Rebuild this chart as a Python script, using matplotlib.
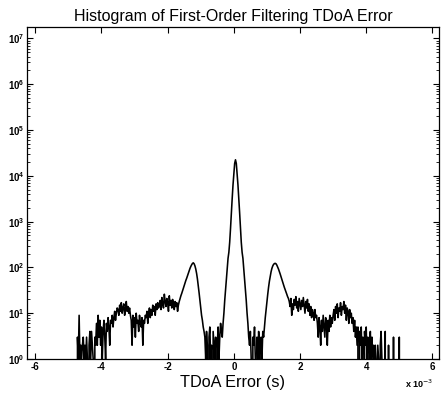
import numpy as np
import matplotlib
matplotlib.use("Agg")
import matplotlib.pyplot as plt
from matplotlib.ticker import NullFormatter, FixedLocator, LogFormatterSciNotation

plt.rcParams['font.family'] = ['Liberation Sans', 'DejaVu Sans']

# Histogram bin width (ms) and counts per contiguous segment
bin_width_ms = 0.025
seg_starts_ms = [-4.75, -4.0, -3.5, -3.1, -2.65, -2.25, -1.65, -0.875, -0.35,
                 0.475, 0.925, 1.675, 2.4, 2.525, 3.0, 3.575, 3.725, 4.225]
seg_far_left = [0, 3, 1, 9, 1, 2, 1, 2, 3, 1, 2, 1, 3, 1, 0, 2, 4, 1, 4, 2, 1, 0, 3, 2, 6, 2, 9, 3, 7, 2]
seg_left_rise = [5, 1, 4, 7, 3, 1, 6, 4, 8, 5, 2, 7, 6, 9, 5, 8, 11, 7, 10, 13]
seg_left_plateau = [12, 9, 15, 11, 17, 10, 13, 16, 9, 12, 18, 11, 14, 10, 13, 9]
seg_left_dip = [7, 2, 9, 5, 8, 3, 10, 6, 7, 4, 9, 6, 5, 8, 2, 7, 6, 9]
seg_left_rise2 = [8, 11, 6, 10, 13, 8, 12, 9, 15, 11, 14, 9, 16, 12, 17, 13]
seg_left_shoulder = [15, 19, 12, 22, 16, 13, 26, 18, 14, 21, 17, 11, 24, 15, 19, 13, 20, 16, 12, 18, 14, 17, 11, 15]
seg_left_lobe = [18, 21, 24, 27, 31, 35, 40, 45, 52, 58, 66, 74, 84, 95, 105, 114, 122, 126,
                 120, 108, 92, 74, 56, 40, 28, 19, 13, 9, 7, 5, 4]
seg_left_null = [3, 1, 4, 2, 0, 3, 5, 1, 2, 0, 4, 2, 1, 3, 0, 2, 5, 1, 3, 6, 4]
seg_main_lobe = [3, 6, 10, 19, 33, 56, 93, 158, 214, 355, 710, 1580, 3160, 6300, 11200, 18600,
                 22400, 18600, 11200, 6300, 3160, 1580, 710, 355, 214, 158, 93, 56, 33, 19, 10, 6, 3]
seg_right_null = [2, 4, 1, 0, 3, 2, 5, 1, 0, 3, 1, 4, 2, 0, 3, 1, 4, 3]
seg_right_lobe = [5, 8, 12, 18, 26, 37, 50, 64, 80, 95, 107, 116, 121, 123, 120, 112, 102, 92,
                  82, 72, 63, 55, 48, 42, 37, 33, 29, 26, 23, 21]
seg_right_shoulder = [18, 14, 21, 9, 16, 12, 20, 15, 23, 13, 18, 11, 21, 16, 12, 19, 14, 22, 15,
                      10, 18, 13, 20, 11, 16, 9, 14, 8, 12]
seg_right_step = [10, 7, 12, 8, 9]
seg_right_dip = [6, 3, 8, 5, 2, 7, 4, 9, 5, 3, 8, 6, 2, 7, 4, 9, 5, 8, 6]
seg_right_plateau = [9, 12, 7, 14, 10, 16, 8, 13, 11, 17, 9, 14, 12, 18, 10, 15, 7, 13, 11, 6, 12, 8, 10]
seg_right_fall = [6, 8, 4, 7, 3, 5]
seg_right_low = [2, 5, 0, 4, 2, 5, 1, 3, 0, 4, 2, 5, 1, 3, 0, 2, 4, 1, 3, 0]
seg_far_right = [2, 1, 2, 0, 1, 2, 1, 0, 2, 4, 1, 0, 0, 0, 4, 0, 0, 0, 2, 0, 0, 0, 0, 0, 3,
                 0, 0, 0, 0, 0, 0, 3, 0]

segments = [seg_far_left, seg_left_rise, seg_left_plateau, seg_left_dip, seg_left_rise2,
            seg_left_shoulder, seg_left_lobe, seg_left_null, seg_main_lobe, seg_right_null,
            seg_right_lobe, seg_right_shoulder, seg_right_step, seg_right_dip,
            seg_right_plateau, seg_right_fall, seg_right_low, seg_far_right]

xs, ys = [], []
for start, seg in zip(seg_starts_ms, segments):
    for i, c in enumerate(seg):
        xs.append((start + i * bin_width_ms) * 1e-3)
        ys.append(c)
xs = np.array(xs)
ys = np.array(ys, dtype=float)

x_ticks = [-6, -4, -2, 0, 2, 4, 6]
x_tick_labels = ['-6', '-4', '-2', '0', '2', '4', '6']
y_decades = [0, 1, 2, 3, 4, 5, 6, 7]
title_text = 'Histogram of First-Order Filtering TDoA Error'
xlabel_text = 'TDoA Error (s)'

fig = plt.figure(figsize=(4.41, 3.94), dpi=100)
ax = fig.add_axes([27 / 441, 35 / 394, 412 / 441, 332 / 394])
ax.plot(xs, ys, color='black', lw=1.15)
ax.set_yscale('log', nonpositive='clip')
ax.set_xlim(-6.25e-3, 6.2e-3)
ax.set_ylim(1, 10 ** 7.25)

ax.xaxis.set_major_locator(FixedLocator([t * 1e-3 for t in x_ticks]))
ax.set_xticklabels(x_tick_labels)
ax.yaxis.set_major_locator(FixedLocator([10.0 ** d for d in y_decades]))
ax.yaxis.set_major_formatter(LogFormatterSciNotation())
minor_y = [m * 10.0 ** d for d in y_decades for m in range(2, 10) if m * 10.0 ** d < 10 ** 7.25]
ax.yaxis.set_minor_locator(FixedLocator(minor_y))
ax.yaxis.set_minor_formatter(NullFormatter())
ax.xaxis.get_offset_text().set_visible(False)
ax.yaxis.get_offset_text().set_visible(False)

ax.tick_params(which='both', direction='in', top=True, right=True, labelsize=7, pad=2)
ax.tick_params(which='major', length=4, width=0.8)
ax.tick_params(which='minor', length=2, width=0.6)
for lab in ax.get_xticklabels() + ax.get_yticklabels():
    lab.set_fontweight('bold')
for sp in ax.spines.values():
    sp.set_linewidth(0.9)

ax.set_title(title_text, fontsize=11.5, pad=4)
ax.set_xlabel(xlabel_text, fontsize=11.7, labelpad=2)
fig.text(405 / 441, 1 - 384 / 394, r'x 10$^{-3}$', fontsize=6.5, fontweight='bold', va='center', ha='left')

fig.savefig('out.png', dpi=100)
